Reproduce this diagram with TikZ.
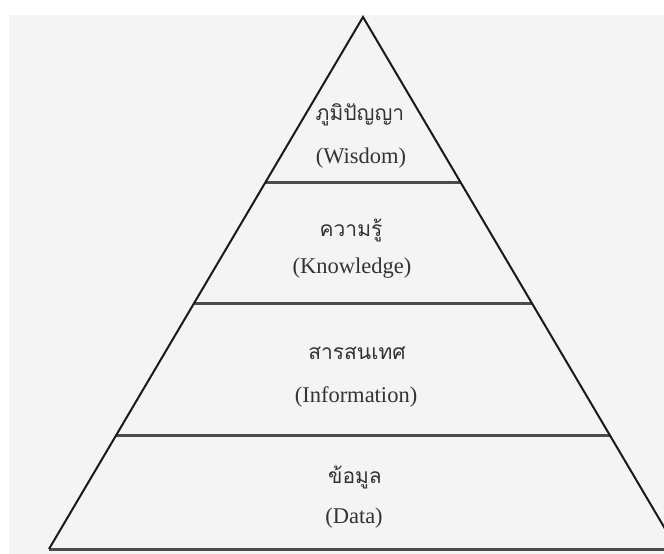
\documentclass[tikz,border=0pt]{standalone}
\usepackage{fontspec}
\setmainfont{Liberation Serif}
\newfontfamily\thaifont[Script=Thai]{Loma}
\usetikzlibrary{calc}
\definecolor{paper}{RGB}{244,244,244}
\tikzset{
  side/.style={line width=2pt,black!90},
  tier/.style={line width=3pt,black!70},
  thlabel/.style={font=\thaifont\fontsize{21}{25}\selectfont,text=black!80},
  enlabel/.style={font=\fontsize{22.5}{27}\selectfont,text=black!80}
}
\begin{document}
\begin{tikzpicture}[x=1pt,y=-1pt]
      \useasboundingbox (0,0) rectangle (664,554);
      \clip (0,0) rectangle (664,554);
      \fill[paper] (9,15) rectangle (664,554);
      \coordinate (top) at (363,17);
      \coordinate (bl) at (49,549);
      \coordinate (br) at (677,549);
      \begin{scope}[tier]
        \draw ($(top)!0.312!(bl)$) -- ($(top)!0.312!(br)$);
        \draw ($(top)!0.539!(bl)$) -- ($(top)!0.539!(br)$);
        \draw ($(top)!0.786!(bl)$) -- ($(top)!0.786!(br)$);
        \draw (bl) -- (br);
      \end{scope}
      \draw[side] (bl) -- (top) -- (br);
      \path
        (360,115) node[thlabel] (wisth) {ภูมิปัญญา}
        (361,158) node[enlabel] (wisen) {(Wisdom)}
        (351,230) node[thlabel] (knoth) {ความรู้}
        (352,268) node[enlabel] (knoen) {(Knowledge)}
        (357,353) node[thlabel] (infth) {สารสนเทศ}
        (356,397) node[enlabel] (infen) {(Information)}
        (355,477) node[thlabel] (datth) {ข้อมูล}
        (354,518) node[enlabel] (daten) {(Data)};
    \end{tikzpicture}
\end{document}
